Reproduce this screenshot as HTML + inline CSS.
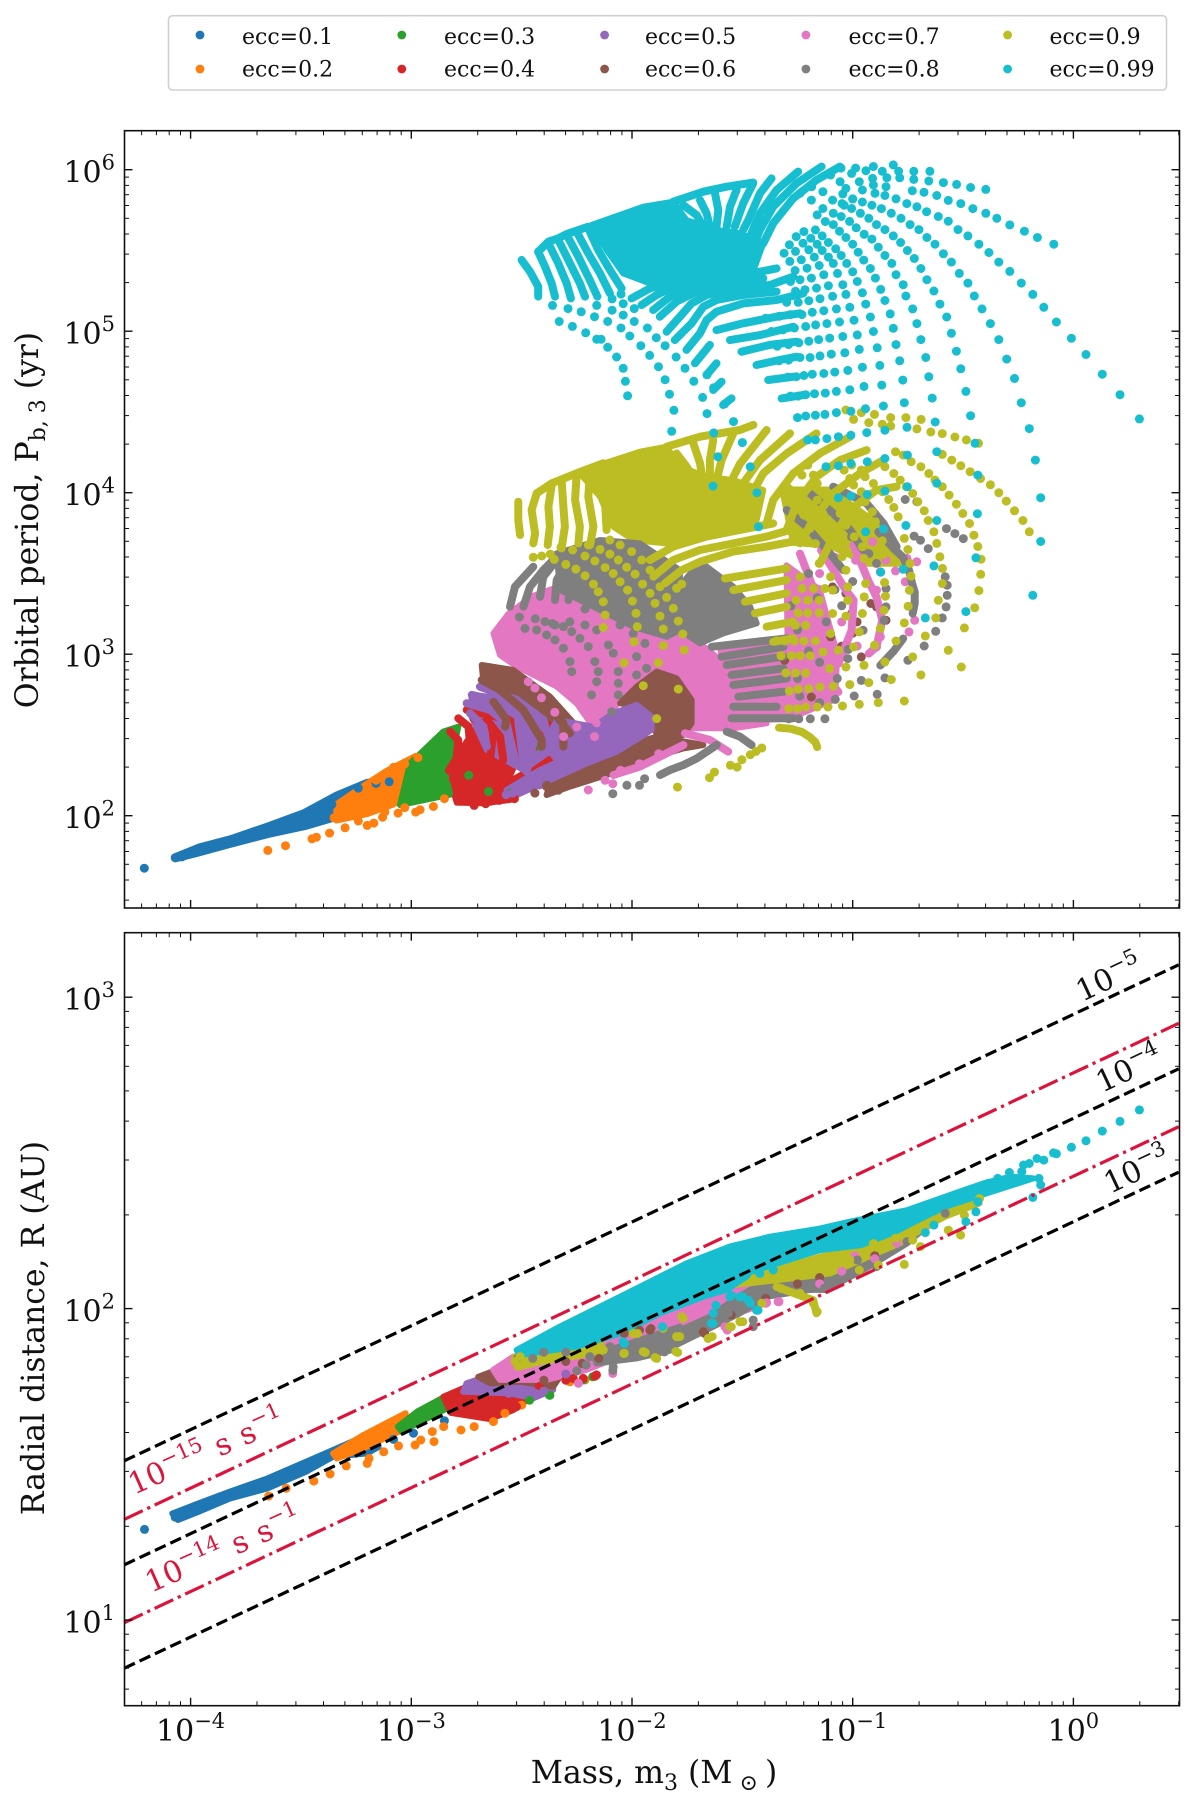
<!DOCTYPE html>
<html lang="en">
<head>
<meta charset="utf-8">
<title>Triple companion mass vs period and radial distance</title>
<style>
html,body{margin:0;padding:0;background:#fff}
svg{display:block}
text{font-family:"DejaVu Serif","Liberation Serif",serif;fill:#111}
</style>
</head>
<body>
<svg id="figure" xmlns="http://www.w3.org/2000/svg" width="1200" height="1801" viewBox="0 0 1200 1801">
  <rect x="0" y="0" width="1200" height="1801" fill="#fff"/>
  <g id="top-marks"></g>
  <g id="bottom-marks"></g>
  <g id="bottom-lines"></g>
  <g id="axes"></g>

  <g>
    <rect x="168.5" y="15.7" width="998" height="74.3" rx="4" fill="#fff" stroke="#d0d0d0" stroke-width="1.6"/>
    <g font-size="22">
      <g><circle cx="200" cy="35" r="4.4" fill="#1f77b4"/><text x="242" y="44">ecc=0.1</text></g>
      <g><circle cx="200" cy="69" r="4.4" fill="#ff7f0e"/><text x="242" y="76.7">ecc=0.2</text></g>
      <g><circle cx="401.8" cy="35" r="4.4" fill="#2ca02c"/><text x="444" y="44">ecc=0.3</text></g>
      <g><circle cx="401.8" cy="69" r="4.4" fill="#d62728"/><text x="444" y="76.7">ecc=0.4</text></g>
      <g><circle cx="604.6" cy="35" r="4.4" fill="#9467bd"/><text x="645" y="44">ecc=0.5</text></g>
      <g><circle cx="604.6" cy="69" r="4.4" fill="#8c564b"/><text x="645" y="76.7">ecc=0.6</text></g>
      <g><circle cx="805.9" cy="35" r="4.4" fill="#e377c2"/><text x="848.5" y="44">ecc=0.7</text></g>
      <g><circle cx="805.9" cy="69" r="4.4" fill="#7f7f7f"/><text x="848.5" y="76.7">ecc=0.8</text></g>
      <g><circle cx="1007.6" cy="35" r="4.4" fill="#bcbd22"/><text x="1049.5" y="44">ecc=0.9</text></g>
      <g><circle cx="1007.6" cy="69" r="4.4" fill="#17becf"/><text x="1049.5" y="76.7">ecc=0.99</text></g>
    </g>
  </g>

  <text transform="translate(38,520) rotate(-90)" text-anchor="middle" font-size="31.5">Orbital period, P<tspan dy="7" font-size="22">b, 3</tspan><tspan dy="-7"> (yr)</tspan></text>
  <text transform="translate(44,1328) rotate(-90)" text-anchor="middle" font-size="31.5">Radial distance, R (AU)</text>
  <text x="654" y="1783" text-anchor="middle" font-size="31.5">Mass, m<tspan dy="7" font-size="22">3</tspan><tspan dy="-7"> (M</tspan><tspan dy="7" font-size="22"> ⊙ </tspan><tspan dy="-7">)</tspan></text>

  <text transform="translate(1082,1002) rotate(-25)" font-size="30">10<tspan dy="-13" font-size="21">−5</tspan></text>
  <text transform="translate(1102,1093) rotate(-25)" font-size="30">10<tspan dy="-13" font-size="21">−4</tspan></text>
  <text transform="translate(1110,1194) rotate(-25)" font-size="30">10<tspan dy="-13" font-size="21">−3</tspan></text>
  <text transform="translate(134,1495) rotate(-24)" font-size="30" style="fill:#dc143c">10<tspan dy="-13" font-size="21">−15</tspan><tspan dy="13" word-spacing="2"> s s</tspan><tspan dy="-13" font-size="21">−1</tspan></text>
  <text transform="translate(151,1593) rotate(-24)" font-size="30" style="fill:#dc143c">10<tspan dy="-13" font-size="21">−14</tspan><tspan dy="13" word-spacing="2"> s s</tspan><tspan dy="-13" font-size="21">−1</tspan></text>
</svg>

<script>
// ---- Tick data (log10 decades) ----
const massDecades = [-4, -3, -2, -1, 0];
const massMinorDecades = [-5, -4, -3, -2, -1, 0];
const periodDecades = [2, 3, 4, 5, 6];
const periodMinorDecades = [1, 2, 3, 4, 5, 6];
const radiusDecades = [1, 2, 3];
const radiusMinorDecades = [0, 1, 2, 3];

// ---- Reference line data (log10 mass endpoints; log10 R endpoints) ----
const lineLogMass = [-4.301, 0.477];
const blackLine5 = [1.511, 3.104];
const blackLine4 = [1.177, 2.770];
const blackLine3 = [0.845, 2.438];
const redLine15 = [1.323, 2.916];
const redLine14 = [0.991, 2.584];

// ---- Series labels and colours ----
const eccLabels = ['0.1','0.2','0.3','0.4','0.5','0.6','0.7','0.8','0.9','0.99'];
const eccColors = ['#1f77b4','#ff7f0e','#2ca02c','#d62728','#9467bd','#8c564b','#e377c2','#7f7f7f','#bcbd22','#17becf'];

// ---- Top panel: dense regions, [log10 m3, log10 Pb3] ----
const topAreaE10 = [[[-4.07,1.75],[-3.96,1.81],[-3.82,1.86],[-3.65,1.94],[-3.49,2.02],[-3.34,2.13],[-3.2,2.21],[-3.1,2.23],[-3.1,2.18],[-3.2,2.1],[-3.33,1.99],[-3.48,1.93],[-3.65,1.88],[-3.82,1.82],[-3.98,1.76],[-4.07,1.73]]];
const topAreaE20 = [[[-3.34,2.07],[-3.2,2.2],[-3.11,2.28],[-2.98,2.37],[-2.98,2.16],[-3.08,2.07],[-3.2,2.01],[-3.34,1.97]]];
const topAreaE30 = [[[-3.051,2.066],[-3.006,2.324],[-2.855,2.521],[-2.787,2.551],[-2.824,2.304],[-2.794,2.139]]];
const topAreaE40 = [[[-2.802,2.118],[-2.568,2.201],[-2.387,2.345],[-2.16,2.49],[-2.13,2.459],[-2.251,2.376],[-2.417,2.273],[-2.56,2.149],[-2.553,2.097],[-2.673,2.077],[-2.794,2.081]],[[-2.824,2.304],[-2.704,2.551],[-2.538,2.593],[-2.507,2.386],[-2.568,2.201],[-2.794,2.118]]];
const topAreaE50 = [[[-2.175,2.551],[-2.085,2.634],[-1.979,2.686],[-1.911,2.613],[-1.911,2.531],[-1.994,2.459],[-2.069,2.397],[-2.205,2.324],[-2.371,2.221],[-2.538,2.118],[-2.568,2.159],[-2.417,2.283],[-2.251,2.386],[-2.13,2.49]],[[-2.726,2.748],[-2.522,2.717],[-2.402,2.593],[-2.341,2.428],[-2.492,2.283],[-2.658,2.407],[-2.734,2.634]],[[-2.341,2.593],[-2.175,2.551],[-2.145,2.49],[-2.341,2.345],[-2.387,2.428]]];
const topAreaE60 = [[[-2.054,2.696],[-1.979,2.799],[-1.888,2.892],[-1.798,2.851],[-1.73,2.717],[-1.73,2.572],[-1.767,2.5],[-1.888,2.5],[-1.911,2.613],[-1.964,2.675]],[[-2.371,2.201],[-2.205,2.314],[-1.994,2.448],[-1.888,2.49],[-1.677,2.438],[-1.767,2.417],[-1.964,2.335],[-2.115,2.252],[-2.281,2.18],[-2.387,2.128]],[[-2.681,2.933],[-2.538,2.902],[-2.371,2.737],[-2.236,2.531],[-2.311,2.417],[-2.402,2.593],[-2.522,2.717],[-2.673,2.82]]];
const topAreaE70 = [[[-2.628,3.129],[-2.56,3.25],[-2.45,3.36],[-2.33,3.42],[-2.145,3.3],[-1.9,3.3],[-1.767,3.15],[-1.601,2.964],[-1.571,2.593],[-1.39,2.572],[-1.541,2.541],[-1.737,2.541],[-1.73,2.717],[-1.798,2.861],[-1.888,2.892],[-2.009,2.8],[-2.085,2.655],[-2.16,2.52],[-2.251,2.696],[-2.341,2.8],[-2.522,2.923],[-2.598,2.995]],[[-1.6,3.05],[-1.3,3.1],[-1.26,2.6],[-1.57,2.59]],[[-1.3,3.55],[-1.15,3.4],[-1.07,3.0],[-1.08,2.72],[-1.29,2.6]]];
const topAreaE80 = [[[-1.692,3.573],[-1.541,3.418],[-1.465,3.294],[-1.435,3.191],[-1.586,3.129],[-1.692,3.067],[-1.783,3.15],[-1.798,3.397]],[[-2.341,3.624],[-2.145,3.707],[-1.964,3.686],[-1.783,3.521],[-1.783,3.15],[-1.843,3.108],[-1.994,3.17],[-2.145,3.273],[-2.326,3.397]]];
const topAreaE90 = [[[-2.243,4.13],[-1.964,4.254],[-1.843,4.285],[-1.783,4.161],[-1.662,4.099],[-1.541,4.078],[-1.405,4.016],[-1.435,3.831],[-1.617,3.748],[-1.843,3.686],[-1.994,3.707],[-2.085,3.79],[-2.145,3.975]],[[-1.32,4.02],[-1.1,4.02],[-.89,3.81],[-.77,3.56],[-.93,3.56],[-1.1,3.67],[-1.27,3.69]]];
const topAreaE99 = [[[-2.183,5.658],[-1.949,5.771],[-1.813,5.802],[-1.753,5.688],[-1.617,5.627],[-1.511,5.606],[-1.405,5.544],[-1.443,5.40],[-1.617,5.317],[-1.798,5.265],[-1.919,5.296],[-2.04,5.358],[-2.115,5.503]]];

// ---- Top panel: merged runs of points, [log10 m3, log10 Pb3] ----
const topTrackE10 = [];
const topTrackE20 = [];
const topTrackE30 = [];
const topTrackE40 = [[[-2.787,2.603],[-2.741,2.552],[-2.734,2.448],[-2.764,2.355]],[[-2.824,2.521],[-2.787,2.469],[-2.794,2.366]],[[-2.719,2.603],[-2.628,2.531],[-2.643,2.345]],[[-2.658,2.593],[-2.598,2.49],[-2.583,2.345]],[[-2.749,2.655],[-2.553,2.593],[-2.53,2.345]]];
const topTrackE50 = [[[-2.726,2.748],[-2.628,2.717],[-2.515,2.613],[-2.447,2.448],[-2.477,2.273]],[[-2.749,2.696],[-2.643,2.655],[-2.568,2.572],[-2.53,2.345]],[[-2.734,2.634],[-2.673,2.552],[-2.658,2.428]],[[-2.689,2.799],[-2.522,2.717],[-2.402,2.593],[-2.356,2.386]]];
const topTrackE60 = [[[-2.666,2.923],[-2.553,2.892],[-2.402,2.758],[-2.311,2.572],[-2.311,2.428]],[[-2.681,2.84],[-2.598,2.779],[-2.492,2.655],[-2.409,2.469],[-2.409,2.428]],[[-2.628,2.706],[-2.568,2.593],[-2.575,2.551]],[[-2.553,2.84],[-2.387,2.696],[-2.281,2.51]]];
const topTrackE70 = [[[-2.084,2.252],[-1.964,2.304],[-1.767,2.438]],[[-1.76,2.51],[-1.647,2.469],[-1.564,2.397]],[[-2.538,2.954],[-2.387,2.861],[-2.251,2.737],[-2.16,2.572]],[[-.996,3.675],[-.927,3.448],[-.892,3.355],[-.866,3.21],[-.892,3.045],[-.927,3.004]],[[-1.143,3.644],[-1.031,3.396],[-.996,3.334],[-1.005,3.148],[-1.065,2.942]],[[-1.239,3.623],[-1.143,3.283],[-1.135,3.128],[-1.169,2.942],[-1.065,2.766]]];
const topTrackE80 = [[[-1.639,3.046],[-1.299,3.098]],[[-1.594,2.984],[-1.314,3.046]],[[-1.571,2.933],[-1.314,2.985]],[[-1.549,2.871],[-1.314,2.912]],[[-1.541,2.809],[-1.299,2.85]],[[-1.518,2.737],[-1.314,2.768]],[[-1.541,2.675],[-1.345,2.675]],[[-1.549,2.603],[-1.269,2.603]],[[-1.571,2.521],[-1.511,2.49],[-1.458,2.438]],[[-1.616,2.438],[-1.707,2.355],[-1.767,2.314],[-1.828,2.283],[-1.873,2.252]],[[-2.553,3.294],[-2.53,3.418],[-2.447,3.542]],[[-2.492,3.294],[-2.462,3.418],[-2.402,3.521],[-2.341,3.604]],[[-2.417,3.356],[-2.402,3.48],[-2.341,3.583]],[[-2.349,3.335],[-2.341,3.459],[-2.281,3.604]],[[-2.288,3.335],[-2.273,3.459],[-2.22,3.624]],[[-1.194,3.996],[-1.088,3.872],[-1.012,3.769],[-.952,3.645]],[[-1.088,4.037],[-.937,3.934],[-.861,3.81],[-.801,3.666]],[[-1.299,3.893],[-1.209,3.79],[-1.103,3.624],[-1.043,3.521]],[[-.884,3.758],[-.849,3.706],[-.814,3.654],[-.771,3.599],[-.745,3.52],[-.731,3.438],[-.719,3.386],[-.719,3.314],[-.728,3.252]],[[-.771,3.097],[-.814,3.02],[-.875,2.93]]];
const topTrackE90 = [[[-1.843,4.285],[-1.692,4.347],[-1.511,4.388],[-1.45,4.42]],[[-1.541,4.367],[-1.594,4.202],[-1.617,4.078]],[[-1.632,4.326],[-1.647,4.202],[-1.647,4.078]],[[-1.722,4.305],[-1.692,4.182],[-1.677,4.058]],[[-1.798,4.243],[-1.752,4.161],[-1.707,4.047]],[[-1.39,4.388],[-1.51,4.18],[-1.54,4.1]],[[-1.284,4.367],[-1.42,4.202],[-1.496,4.058]],[[-1.164,4.367],[-1.299,4.243],[-1.405,4.12],[-1.465,3.975]],[[-2.515,3.944],[-2.515,3.831],[-2.507,3.738]],[[-2.432,3.996],[-2.455,3.893],[-2.439,3.748],[-2.447,3.686]],[[-2.364,4.047],[-2.379,3.913],[-2.372,3.79],[-2.382,3.676]],[[-2.319,4.078],[-2.311,3.913],[-2.304,3.79],[-2.319,3.655]],[[-2.251,4.109],[-2.258,3.955],[-2.236,3.79],[-2.243,3.686]],[[-2.19,4.13],[-2.198,3.975],[-2.175,3.79],[-2.19,3.676]],[[-2.432,3.996],[-2.364,4.058],[-2.251,4.12],[-2.13,4.182]],[[-2.13,4.161],[-2.122,3.934],[-2.115,3.769]],[[-1.919,3.583],[-1.813,3.666],[-1.662,3.728],[-1.511,3.769],[-1.36,3.81]],[[-1.903,3.48],[-1.813,3.583],[-1.692,3.645],[-1.541,3.686],[-1.39,3.728],[-1.284,3.769]],[[-1.851,3.439],[-1.775,3.521],[-1.692,3.573],[-1.541,3.635],[-1.39,3.666],[-1.269,3.697]],[[-1.579,3.469],[-1.299,3.531]],[[-1.541,3.397],[-1.299,3.459]],[[-1.488,3.325],[-1.299,3.377]],[[-1.443,3.253],[-1.299,3.294]],[[-1.39,3.17],[-1.269,3.201]],[[-1.36,3.077],[-1.269,3.098]],[[-1.012,4.347],[-1.148,4.244],[-1.269,4.12],[-1.36,3.955],[-1.39,3.81]],[[-.937,4.264],[-1.058,4.202],[-1.164,4.099],[-1.254,3.934],[-1.299,3.769]],[[-.861,4.202],[-.967,4.12],[-1.088,3.996],[-1.179,3.831],[-1.239,3.686]],[[-.801,4.037],[-.892,4.016],[-1.012,3.893],[-1.088,3.728],[-1.148,3.562]],[[-1.334,2.545],[-1.282,2.539],[-1.23,2.518],[-1.195,2.487],[-1.169,2.456],[-1.161,2.425]]];
const topTrackE99 = [[[-1.813,5.802],[-1.677,5.864],[-1.571,5.895],[-1.451,5.92]],[[-1.451,5.916],[-1.496,5.792],[-1.534,5.647]],[[-1.526,5.874],[-1.556,5.771],[-1.571,5.647]],[[-1.624,5.854],[-1.609,5.75],[-1.617,5.647]],[[-1.692,5.812],[-1.662,5.73],[-1.647,5.647]],[[-1.768,5.781],[-1.707,5.719],[-1.677,5.647]],[[-1.368,5.946],[-1.42,5.854],[-1.473,5.688],[-1.496,5.627]],[[-1.247,5.988],[-1.345,5.874],[-1.42,5.73],[-1.466,5.585]],[[-1.141,6.019],[-1.254,5.916],[-1.36,5.771],[-1.42,5.627],[-1.451,5.523]],[[-1.058,6.019],[-1.164,5.936],[-1.269,5.823],[-1.36,5.668],[-1.405,5.544]],[[-2.5,5.441],[-2.462,5.369],[-2.425,5.276],[-2.425,5.214]],[[-2.425,5.492],[-2.394,5.4],[-2.364,5.296],[-2.349,5.214]],[[-2.425,5.492],[-2.379,5.554],[-2.334,5.575],[-2.296,5.602],[-2.251,5.622],[-2.198,5.647]],[[-2.379,5.544],[-2.334,5.42],[-2.296,5.296],[-2.277,5.203]],[[-2.334,5.565],[-2.281,5.42],[-2.236,5.296],[-2.213,5.214]],[[-2.296,5.596],[-2.243,5.461],[-2.191,5.317],[-2.157,5.214]],[[-2.251,5.616],[-2.198,5.482],[-2.145,5.358],[-2.1,5.234]],[[-2.198,5.637],[-2.153,5.503],[-2.1,5.379],[-2.047,5.265]],[[-2.002,5.203],[-1.919,5.265],[-1.813,5.307],[-1.707,5.348],[-1.571,5.369]],[[-1.957,5.162],[-1.889,5.224],[-1.798,5.286],[-1.692,5.317],[-1.556,5.348],[-1.451,5.379]],[[-1.904,5.131],[-1.828,5.214],[-1.753,5.265],[-1.647,5.307],[-1.496,5.348],[-1.345,5.389]],[[-1.874,5.09],[-1.798,5.183],[-1.707,5.245],[-1.587,5.286],[-1.405,5.327]],[[-1.843,4.997],[-1.783,5.09],[-1.73,5.172],[-1.662,5.224],[-1.526,5.265],[-1.375,5.286],[-1.269,5.338]],[[-1.806,4.945],[-1.73,5.049],[-1.677,5.152],[-1.617,5.193],[-1.496,5.224],[-1.345,5.245]],[[-1.753,4.884],[-1.692,4.987],[-1.662,5.069],[-1.617,5.121],[-1.496,5.172],[-1.345,5.193],[-1.224,5.234]],[[-1.617,5.007],[-1.496,5.049],[-1.345,5.09],[-1.239,5.111]],[[-1.556,4.945],[-1.42,4.976],[-1.269,5.028]],[[-1.504,4.873],[-1.375,4.915],[-1.254,4.935]],[[-1.436,4.791],[-1.33,4.822],[-1.254,4.842]],[[-1.383,4.698],[-1.269,4.718]],[[-1.322,4.584],[-1.224,4.605]],[[-1.715,4.801],[-1.647,4.915]],[[-1.662,4.729],[-1.617,4.801]],[[-1.632,4.636],[-1.594,4.687]],[[-1.587,4.543],[-1.549,4.584]]];

// ---- Top panel: individual points, [log10 m3, log10 Pb3] ----
const topE10 = [[-4.21,1.675],[-4.07,1.74],[-4.04,1.745],[-4.01,1.76],[-3.96,1.79],[-3.9,1.82],[-3.82,1.85],[-3.75,1.88],[-3.65,1.91],[-3.57,1.95],[-3.49,1.99],[-3.42,2.03],[-3.36,2.07],[-3.24,2.17],[-3.16,2.2],[-3.1,2.21]];
const topE20 = [[-3.65,1.785],[-3.57,1.814],[-3.45,1.857],[-3.43,1.867],[-3.37,1.892],[-3.3,1.925],[-3.35,1.987],[-3.24,1.967],[-3.2,1.94],[-3.17,1.954],[-3.13,1.991],[-3.12,2.022],[-3.06,2.016],[-2.98,2.022],[-2.96,2.037],[-2.9,2.057],[-2.85,2.105],[-3.08,2.3],[-3.03,2.32],[-3.16,2.22],[-2.97,2.36],[-3.26,2.1],[-3.17,2.06],[-3.03,2.05]];
const topE30 = [[-2.74,2.25],[-2.65,2.15],[-2.42,2.43],[-2.55,2.14]];
const topE40 = [[-2.827,2.281],[-2.81,2.229],[-2.767,2.29],[-2.706,2.281],[-2.784,2.177],[-2.735,2.167],[-2.663,2.219],[-2.611,2.219],[-2.715,2.064],[-2.663,2.074],[-2.602,2.095],[-2.533,2.105],[-2.78,2.09],[-2.74,2.09],[-2.69,2.09],[-2.64,2.09],[-2.58,2.12],[-2.42,2.5],[-2.45,2.42],[-2.38,2.56]];
const topE50 = [[-2.54,2.14],[-2.5,2.16],[-2.42,2.19],[-2.351,2.549],[-2.342,2.405],[-2.368,2.301],[-2.57,2.13]];
const topE60 = [[-2.386,2.188],[-2.334,2.157],[-2.282,2.198],[-2.213,2.25],[-1.091,3.417],[-1.031,3.376],[-1.005,3.252],[-.918,3.314],[-.892,3.293],[-.849,3.21],[-1.1,3.107],[-.961,2.983],[-1.187,2.735],[-1.308,2.962],[-.87,3.27],[-.98,3.2],[-1.0,3.13],[-1.05,3.05],[-2.387,2.18],[-2.44,2.14]];
const topE70 = [[-.71,3.572],[-.754,3.593],[-.806,3.516],[-.762,3.448],[-.719,3.21],[-.745,3.138],[-.91,3.696],[-.849,3.582],[-.875,3.51],[-.875,3.107],[-.892,3.396],[-.987,3.582],[-.892,3.045],[-1.1,2.838],[-1.239,3.148],[-1.879,2.384],[-1.966,2.322],[-2.052,2.281],[-2.122,2.219],[-2.087,2.198],[-2.198,2.159],[-1.2,3.3],[-1.15,3.4],[-1.05,3.2],[-.98,3.05],[-1.1,2.95],[-1.19,2.9],[-1.15,3.5],[-1.08,3.6],[-2.47,2.83],[-2.44,2.79],[-2.41,2.73],[-2.35,2.64],[-2.31,2.49],[-2.17,2.49],[-2.25,2.55]];
const topE80 = [[-.499,3.716],[-.537,3.747],[-.575,3.778],[-.709,3.944],[-.762,3.958],[-.658,3.654],[-.693,3.706],[-.722,3.731],[-.572,3.365],[-.572,3.427],[-.581,3.479],[-.577,3.293],[-.594,3.225],[-.624,3.142],[-.676,3.051],[-.75,2.962],[-.854,2.853],[-.889,2.752],[-.858,3.21],[-.849,3.293],[-.849,3.407],[-.892,3.562],[-.927,3.623],[-.961,3.665],[-1.005,3.727],[-.953,3.148],[-1.022,2.973],[-.961,2.838],[-.993,2.741],[-1.079,2.72],[-1.126,2.6],[-1.192,2.6],[-1.244,2.6],[-1.29,2.6],[-1.943,2.229],[-1.966,2.188],[-2.023,2.188],[-2.087,2.136],[-1.2,3.02],[-1.15,2.95],[-1.12,3.2],[-1.05,3.3],[-1.0,3.45],[-1.08,3.4],[-1.16,3.35],[-1.2,3.5],[-1.28,3.3],[-1.25,3.15],[-1.25,2.85],[-1.24,2.74],[-1.15,2.7],[-1.07,2.85],[-1.02,3.03],
[-2.485,3.16],[-2.432,3.15],[-2.387,3.119],[-2.349,3.088],[-2.311,3.037],[-2.281,2.954],[-2.273,2.892],[-2.394,3.202],[-2.349,3.181],[-2.311,3.171],[-2.273,3.14],[-2.236,3.098],[-2.198,3.047],[-2.168,2.954],[-2.153,2.892],[-2.16,2.83],[-2.183,2.748],[-2.213,3.181],[-2.16,3.15],[-2.107,3.057],[-2.085,3.006],[-2.062,2.892],[-2.062,2.82],[-2.062,2.748],[-2.092,2.644],[-2.054,3.181],[-1.994,3.129],[-1.941,3.067],[-1.979,2.985],[-1.934,2.913],[-1.979,2.871],[-2.51,3.23],[-2.438,3.22],[-2.36,3.19],[-2.282,3.2],[-2.213,3.28]];
const topE90 = [[-.2,3.758],[-.229,3.828],[-.267,3.888],[-.304,3.948],[-.338,4.0],[-.376,4.049],[-.421,4.088],[-.468,4.13],[-.51,4.167],[-.551,4.202],[-.594,4.237],[-.43,4.306],[-.485,4.327],[-.537,4.345],[-.594,4.366],[-.646,4.376],[-.709,4.395],[-.69,4.454],[-.759,4.465],[-.828,4.465],[-.828,4.413],[-.901,4.485],[-.866,4.424],[-.961,4.496],[-1.031,4.512],[-.927,4.434],[-.996,4.454],[-.428,3.394],[-.42,3.495],[-.418,3.588],[-.433,3.667],[-.451,3.737],[-.471,3.809],[-.501,3.871],[-.53,3.929],[-.563,3.985],[-.594,4.037],[-.627,4.078],[-.655,4.119],[-.691,4.161],[-.735,4.192],[-.771,4.233],[-.806,4.254],[-.447,3.287],[-.494,3.163],[-.567,3.024],[-.508,2.921],[-.691,2.871],[-.766,2.71],[-.884,2.7],[-.97,2.69],[-1.046,2.679],[-1.112,2.673],[-1.161,2.673],[-1.213,2.673],[-1.25,2.663],[-1.29,2.663],[-.624,3.225],[-.612,3.334],[-.594,3.438],[-.593,3.531],[-.605,3.603],[-.619,3.686],[-.632,3.758],[-.658,3.828],[-.676,3.888],[-.705,3.944],[-.728,3.995],[-.757,4.037],[-.785,4.078],[-.814,4.119],[-.854,4.161],[-.671,3.113],[-.728,2.983],[-.804,3.082],[-.825,2.843],[-.854,2.952],[-.927,2.824],[-1.013,2.812],[-1.088,2.801],[-1.148,2.797],[-1.199,2.787],[-1.247,2.783],[-1.287,2.772],[-.766,3.194],[-.749,3.297],[-.743,3.396],[-.736,3.483],[-.741,3.562],[-.75,3.648],[-.766,3.717],[-.794,3.851],[-.814,3.909],[-.837,3.958],[-.866,4.006],[-.906,4.057],[-.944,4.099],[-.961,4.14],[-1.005,4.171],[-.901,3.055],[-.875,3.159],[-.858,3.272],[-.852,3.359],[-.856,3.444],[-.861,3.617],[-.866,3.702],[-.897,3.82],[-.911,3.882],[-.944,3.944],[-.961,4.006],[-.996,4.047],[-1.013,4.088],[-1.039,4.14],[-1.074,4.181],[-.949,2.931],[-.996,3.045],[-.97,3.138],[-.956,3.252],[-.948,3.355],[-.941,3.438],[-.949,3.593],[-.956,3.665],[-.993,3.727],[-1.031,3.799],[-1.057,3.871],[-1.1,3.954],[-1.135,3.995],[-1.161,4.057],[-1.178,4.109],[-1.204,4.171],[-1.031,2.921],[-1.065,3.024],[-1.031,3.235],[-1.022,3.334],[-1.022,3.417],[-1.031,3.52],[-1.048,3.603],[-1.083,3.706],[-1.109,3.789],[-1.135,3.871],[-1.161,3.954],[-1.195,4.037],[-1.23,4.109],[-1.104,2.911],[-1.135,3.014],[-1.1,3.128],[-1.091,3.252],[-1.091,3.396],[-1.1,3.479],[-1.152,3.562],[-1.169,3.685],[-1.195,3.778],[-1.221,3.861],[-1.256,3.954],[-1.29,4.026],
[-1.303,2.884],[-1.259,2.884],[-1.213,2.884],[-1.325,2.991],[-1.278,2.991],[-1.239,2.991],[-1.193,2.991],[-1.346,3.082],[-1.308,3.082],[-1.265,3.082],[-1.221,3.082],[-1.169,3.082],[-1.259,3.179],[-1.213,3.179],[-1.247,3.256],[-1.204,3.256],[-1.152,3.256],[-1.256,3.334],[-1.204,3.334],[-1.152,3.334],[-1.23,3.407],[-1.178,3.407],[-1.126,3.407],[-1.239,3.479],
[-2.409,3.608],[-2.352,3.587],[-2.3,3.556],[-2.254,3.527],[-2.213,3.486],[-2.175,3.434],[-2.153,3.387],[-2.13,3.325],[-2.122,3.242],[-2.13,3.166],[-2.322,3.661],[-2.269,3.645],[-2.213,3.608],[-2.168,3.577],[-2.122,3.536],[-2.085,3.5],[-2.054,3.449],[-2.02,3.397],[-1.998,3.329],[-1.982,3.253],[-1.976,3.17],[-1.991,3.077],[-2.036,2.947],[-2.198,3.676],[-2.145,3.649],[-2.1,3.62],[-2.062,3.583],[-2.024,3.538],[-1.986,3.496],[-1.952,3.434],[-1.918,3.377],[-1.896,3.315],[-1.873,3.236],[-1.858,3.156],[-1.858,3.053],[-1.881,2.947],[-1.949,2.805],[-2.1,3.707],[-2.054,3.676],[-2.002,3.635],[-1.956,3.583],[-1.918,3.521],[-1.873,3.418],[-1.843,3.352],[-1.813,3.284],[-1.79,3.205],[-1.77,3.125],[-1.764,3.026],[-1.79,2.784],[-1.775,3.434],[-1.798,3.408],[-1.888,2.601],
[-1.412,2.419],[-1.438,2.398],[-1.464,2.378],[-1.502,2.347],[-1.524,2.301],[-1.554,2.312],[-1.626,2.27],[-1.649,2.235],[-1.794,2.177],[-2.447,3.6],[-2.37,3.62]];
const topE99 = [[-2.11,5.06],[-2.05,5.02],[-2.01,4.97],[-1.96,4.91],[-1.92,4.85],[-1.88,4.78],[-1.85,4.7],[-1.83,4.61],[-1.81,4.51],[-1.82,4.38],[-2.14,4.95],[-2.11,4.9],[-2.07,4.84],[-2.04,4.77],[-2.03,4.69],[-2.02,4.6],[-2.09,5.13],[-2.04,5.1],[-1.99,5.06],[-1.93,5.02],[-1.89,4.96],[-1.85,4.91],[-1.8,4.84],[-1.76,4.77],[-1.72,4.69],[-1.68,4.59],[-1.66,4.49],[-1.66,4.73],[-1.63,4.65],[-1.58,4.55],[-1.54,4.44],[-1.63,4.37],[-1.5,4.31],[-2.36,5.16],[-2.33,5.06],[-2.29,5.14],[-2.27,5.03],[-2.23,5.12],[-2.21,4.99],[-2.16,5.16],[-2.17,5.09],[-2.16,4.95],[-2.09,5.2],[-2.04,5.17],[-1.99,5.14],[-2.05,5.23],
[.299,4.457],[.211,4.607],[.131,4.734],[.057,4.856],[-.009,4.956],[-.077,5.057],[-.134,5.148],[-.184,5.228],[-.236,5.298],[-.288,5.37],[-.338,5.428],[-.383,5.487],[-.428,5.539],[-.478,5.59],[-.523,5.629],[-.567,5.681],[-.612,5.71],[-.665,5.74],[-.709,5.77],[-.755,5.79],[-.089,5.539],[-.163,5.58],[-.222,5.619],[-.288,5.658],[-.347,5.699],[-.397,5.73],[-.456,5.759],[-.51,5.79],[-.567,5.81],[-.619,5.84],[-.677,5.86],[-.73,5.87],[-.397,5.878],[-.466,5.89],[-.529,5.909],[-.589,5.92],[-.655,5.93],[-.65,5.99],[-.723,5.99],[-.723,5.94],[-.816,6.03],[-.792,5.99],[-.787,5.95],[-.804,5.82],[-.854,5.84],[-.899,5.854],[-.906,6.02],[-.866,5.99],[-.845,5.95],[-.849,5.895],[-.987,6.01],[-.94,5.994],[-.91,5.946],[-.906,5.905],[-1.053,6.01],[-1.005,5.977],[-.97,5.926],[-.956,5.874],[-1.1,5.967],[-1.057,5.926],[-1.031,5.884],[-1.0,5.819],[-1.186,5.895],[-1.135,5.864],[-1.091,5.812],[-1.039,5.78],[-1.239,5.854],[-1.187,5.812],[-1.135,5.76],
[-.2,4.397],[-.236,4.557],[-.267,4.707],[-.302,4.827],[-.338,4.948],[-.376,5.047],[-.414,5.138],[-.449,5.218],[-.478,5.298],[-.517,5.358],[-.553,5.428],[-.589,5.479],[-.627,5.539],[-.664,5.58],[-.7,5.629],[-.74,5.66],[-.781,5.699],[-.825,5.73],[-.87,5.759],[-.913,5.78],[-.956,5.8],[-1.0,5.819],[-1.045,5.85],
[-.466,4.477],[-.487,4.627],[-.51,4.767],[-.53,4.876],[-.553,4.987],[-.574,5.088],[-.605,5.168],[-.632,5.249],[-.664,5.319],[-.691,5.388],[-.721,5.45],[-.752,5.5],[-.783,5.549],[-.816,5.59],[-.854,5.629],[-.892,5.66],[-.927,5.699],[-.965,5.73],[-1.005,5.76],[-1.048,5.79],
[-.626,4.438],[-.64,4.586],[-.655,4.718],[-.669,4.837],[-.691,4.948],[-.709,5.047],[-.728,5.138],[-.759,5.218],[-.771,5.288],[-.804,5.35],[-.823,5.42],[-.854,5.469],[-.884,5.52],[-.913,5.57],[-.948,5.6],[-.984,5.64],[-1.014,5.68],[-1.052,5.71],[-1.088,5.73],
[-.766,4.557],[-.773,4.697],[-.787,4.817],[-.804,4.917],[-.816,5.018],[-.83,5.107],[-.854,5.19],[-.873,5.259],[-.897,5.329],[-.92,5.388],[-.95,5.44],[-.975,5.489],[-1.0,5.539],[-1.031,5.58],[-1.06,5.619],[-1.088,5.66],[-1.124,5.679],[-1.161,5.72],
[-.861,4.537],[-.868,4.666],[-.877,4.788],[-.889,4.897],[-.906,4.998],[-.92,5.088],[-.941,5.168],[-.956,5.238],[-.979,5.308],[-1.0,5.368],[-1.027,5.42],[-1.052,5.469],[-1.077,5.51],[-1.11,5.549],[-1.138,5.59],[-1.169,5.627],
[-.949,4.658],[-.956,4.777],[-.97,4.887],[-.979,4.977],[-.994,5.068],[-1.013,5.148],[-1.031,5.228],[-1.045,5.288],[-1.069,5.358],[-1.088,5.42],[-1.11,5.459],[-1.138,5.5],[-1.161,5.539],[-1.19,5.576],[-1.221,5.617],
[-1.013,4.637],[-1.022,4.757],[-1.036,4.866],[-1.045,4.967],[-1.06,5.057],[-1.074,5.138],[-1.091,5.216],[-1.11,5.282],[-1.131,5.35],[-1.152,5.407],[-1.174,5.459],[-1.199,5.504],[-1.225,5.545],[-1.256,5.586],
[-1.074,4.627],[-1.081,4.747],[-1.097,4.858],[-1.104,4.957],[-1.117,5.047],[-1.131,5.127],[-1.148,5.201],[-1.164,5.267],[-1.187,5.329],[-1.207,5.39],[-1.233,5.442],[-1.259,5.494],[-1.287,5.535],
[-1.124,4.617],[-1.131,4.738],[-1.148,4.847],[-1.154,4.948],[-1.168,5.039],[-1.183,5.117],[-1.199,5.189],[-1.216,5.257],[-1.239,5.319],[-1.261,5.376],[-1.285,5.432],[-1.311,5.483],
[-1.173,4.613],[-1.183,4.734],[-1.193,4.837],[-1.199,4.938],[-1.213,5.029],[-1.23,5.103],[-1.247,5.179],[-1.259,5.247],[-1.282,5.308],
[-1.213,4.607],[-1.221,4.726],[-1.239,4.837],[-1.244,4.928],[-1.264,5.02],[-1.282,5.103],[-1.299,5.179],
[-1.247,4.598],[-1.256,4.718],[-1.291,4.821],[-1.291,4.917],[-1.317,5.008],[-1.334,5.092],
[-1.282,4.598],[-1.294,4.716],[-1.334,4.817],[-1.342,4.907],[-1.368,4.998],[-1.394,5.08],
[-1.204,4.327],[-1.169,4.327],[-1.117,4.335],[-1.065,4.347],[-1.008,4.356],[-.936,4.372],[-.854,4.387],[-.754,4.405],[-.446,4.306],[-1.25,4.465],[-1.213,4.475],[-1.169,4.48],[-1.126,4.485],[-1.074,4.496],[-1.008,4.504],[-.942,4.52],
[-1.611,4.223],[-1.464,4.161],[-1.633,4.041],[-1.434,4.0],[-1.427,3.789],[-1.121,4.161],[-1.065,4.167],[-1.008,4.181],[-.934,4.192],[-.854,4.212],[-.752,4.233],[-.619,4.254],[-.172,4.202],[-.148,3.969],[-.433,4.109],[-.619,4.059],[-.752,4.037],[-.854,4.01],[-.934,3.989],[-1.008,3.979],[-1.065,3.969],[-.435,3.87],[-.619,3.828],[-.759,3.797],[-.861,3.776],[-.941,3.758],[-.148,3.698],[-.442,3.597],[-.632,3.547],[-.771,3.526],[-.873,3.508],[-.184,3.365],[-.487,3.264],[-.671,3.225]];

// ---- Bottom panel: dense regions, [log10 m3, log10 R] ----
const botAreaE10 = [[[-4.083,1.342],[-3.962,1.375],[-3.823,1.412],[-3.65,1.455],[-3.477,1.508],[-3.355,1.546],[-3.252,1.578],[-3.2,1.594],[-3.148,1.556],[-3.2,1.535],[-3.355,1.524],[-3.477,1.476],[-3.65,1.423],[-3.823,1.39],[-3.962,1.348],[-4.057,1.321]]];
const botAreaE20 = [[[-3.355,1.535],[-3.217,1.594],[-3.026,1.664],[-3.026,1.615],[-3.217,1.551],[-3.338,1.519]]];
const botAreaE30 = [[[-3.061,1.621],[-2.974,1.669],[-2.836,1.722],[-2.836,1.68],[-2.957,1.637],[-3.044,1.605]]];
const botAreaE40 = [[[-2.855,1.717],[-2.75,1.749],[-2.508,1.739],[-2.463,1.712],[-2.538,1.674],[-2.645,1.645],[-2.82,1.665]]];
const botAreaE50 = [[[-2.75,1.76],[-2.704,1.771],[-2.508,1.771],[-2.357,1.739],[-2.448,1.712],[-2.553,1.728],[-2.765,1.733]]];
const botAreaE60 = [[[-2.697,1.781],[-2.614,1.803],[-2.433,1.797],[-2.327,1.781],[-2.357,1.749],[-2.508,1.765],[-2.644,1.76]]];
const botAreaE70 = [[[-2.629,1.803],[-2.538,1.846],[-2.206,1.878],[-2.055,1.92],[-1.647,2.027],[-1.451,2.081],[-1.436,2.006],[-1.647,1.953],[-1.813,1.91],[-2.055,1.846],[-2.206,1.803],[-2.387,1.771],[-2.599,1.771]]];
const botAreaE80 = [[[-1.783,1.931],[-1.647,1.974],[-1.542,2.027],[-1.466,2.06],[-1.315,2.102],[-1.164,2.135],[-1.194,2.06],[-1.39,2.038],[-1.511,1.985],[-1.693,1.92],[-1.813,1.878]],[[-2.176,1.856],[-2.055,1.878],[-1.783,1.942],[-1.813,1.867],[-1.98,1.84],[-2.161,1.824]],[[-1.325,2.113],[-1.1,2.135],[-.927,2.188],[-.771,2.22],[-.615,2.306],[-.529,2.327],[-.684,2.252],[-.754,2.209],[-.927,2.134],[-1.118,2.06],[-1.325,2.06]]];
const botAreaE90 = [[[-1.55,2.124],[-1.308,2.134],[-1.1,2.177],[-.927,2.215],[-.806,2.231],[-.684,2.295],[-.581,2.327],[-.433,2.359],[-.425,2.338],[-.581,2.295],[-.667,2.263],[-.788,2.209],[-.927,2.167],[-1.1,2.113],[-1.273,2.097],[-1.533,2.076]],[[-2.534,1.845],[-2.312,1.883],[-2.139,1.91],[-2.139,1.86],[-2.4,1.83],[-2.52,1.81]]];
const botAreaE99 = [[[-2.523,1.867],[-2.327,1.942],[-2.055,2.038],[-1.753,2.145],[-1.557,2.199],[-1.375,2.231],[-1.149,2.257],[-1.013,2.279],[-.754,2.316],[-.494,2.381],[-.408,2.402],[-.286,2.424],[-.182,2.418],[-.442,2.359],[-.581,2.327],[-.719,2.279],[-.806,2.247],[-.961,2.204],[-1.149,2.188],[-1.436,2.124],[-1.572,2.06],[-1.678,2.038],[-1.874,1.985],[-2.055,1.92],[-2.251,1.878],[-2.508,1.851]]];

// ---- Bottom panel: merged runs of points ----
const botTrackE90 = [[[-1.345,2.07],[-1.179,2.027],[-1.164,1.985]]];

// ---- Bottom panel: individual points, [log10 m3, log10 R] ----
const botE10 = [[-4.209,1.291],[-4.07,1.33],[-4.03,1.336],[-3.98,1.36],[-3.9,1.385],[-3.08,1.58],[-2.99,1.6],[-2.85,1.64]];
const botE20 = [[-3.646,1.398],[-3.567,1.423],[-3.442,1.446],[-3.368,1.469],[-3.295,1.495],[-3.2,1.503],[-3.191,1.519],[-3.125,1.54],[-3.058,1.559],[-2.983,1.562],[-2.957,1.578],[-2.897,1.573],[-2.905,1.605],[-2.853,1.621],[-2.775,1.61],[-2.715,1.621],[-2.628,1.637],[-2.576,1.664],[-2.5,1.69],[-2.282,1.765],[-2.213,1.771]];
const botE30 = [[-2.464,1.706],[-2.374,1.722],[-2.178,1.781],[-2.221,1.771],[-2.372,1.722]];
const botE40 = [[-2.524,1.685],[-2.221,1.776],[-2.161,1.787],[-2.42,1.75],[-2.3,1.77],[-2.168,1.783],[-2.266,1.776]];
const botE50 = [[-2.559,1.728],[-2.438,1.728],[-2.4,1.735],[-2.3,1.79],[-2.25,1.8]];
const botE60 = [[-1.966,1.931],[-1.914,1.936],[-1.671,1.92],[-1.55,1.979],[-1.394,2.033],[-2.035,1.92],[-2.226,1.824],[-2.399,1.77],[-2.3,1.83],[-2.15,1.84],[-1.678,1.926],[-1.919,1.931],[-1.25,2.08],[-1.15,2.1],[-.9,2.17]];
const botE70 = [[-1.394,2.017],[-1.568,1.931],[-2.087,1.792],[-2.243,1.76],[-1.334,2.022],[-.9,2.16],[-.99,2.17],[-.8,2.21],[-1.579,1.942],[-1.39,2.019],[-1.338,2.022],[-1.15,2.08],[-1.05,2.12]];
const botE80 = [[-1.129,2.065],[-1.195,2.065],[-1.853,1.861],[-2.087,1.845],[-2.087,1.802],[-.892,2.135],[-.979,2.156],[-.754,2.215],[-.581,2.306],[-2.208,1.819],[-2.3,1.86],[-2.45,1.84],[-2.25,1.8],[-1.98,1.89],[-2.1,1.878],[-2.191,1.846],[-2.085,1.813],[-1.98,1.846],[-1.859,1.878],[-1.708,1.942],[-1.451,1.963],[-1.451,1.942],[-1.564,1.985],[-2.4,1.86],[-2.52,1.84]];
const botE90 = [[-.511,2.236],[-.567,2.252],[-.494,2.3],[-.693,2.199],[-.766,2.142],[-.884,2.14],[-.97,2.124],[-1.013,2.156],[-.944,2.183],[-.906,2.209],[-.806,2.226],[-.728,2.22],[-1.1,2.145],[-1.152,2.151],[-1.204,2.145],[-1.256,2.108],[-1.308,2.124],[-1.412,2.017],[-1.161,1.99],[-1.178,2.017],[-1.239,2.049],[-1.325,2.065],[-1.498,1.958],[-1.55,1.942],[-1.637,1.91],[-1.775,1.974],[-1.784,1.91],[-1.888,1.84],[-1.793,1.859],[-1.975,1.92],[-2.035,1.856],[-1.94,1.859],[-1.446,2.097],[-.425,2.354],[-2.507,1.846],[-2.53,1.83],[-1.896,1.843],[-1.949,1.862],[-2.037,1.856],[-1.801,1.862],[-1.798,1.91],[-1.655,1.904],[-1.557,1.942],[-1.511,1.958],[-1.768,1.969],[-1.859,1.937],[-1.995,1.92],[-2.13,1.867],[-1.436,2.097]];
const botE99 = [[.299,2.638],[.211,2.601],[.131,2.57],[.057,2.539],[-.009,2.518],[-.077,2.497],[-.09,2.5],[-.134,2.477],[-.165,2.482],[-.2,2.466],[-.226,2.461],[-.234,2.44],[-.29,2.437],[-.343,2.418],[-.387,2.402],[-.148,2.397],[-.156,2.418],[-.184,2.357],[-.433,2.343],[-.442,2.311],[-.487,2.279],[-.671,2.244],[-.632,2.268],[-1.36,2.124],[-1.429,1.995],[-1.464,2.017],[-1.498,2.038],[-1.55,2.043],[-1.62,2.011],[-1.633,1.952],[-1.862,1.942],[-2.035,1.888],[-1.436,1.995],[-1.474,2.027],[-1.511,2.038],[-1.557,2.038],[-1.632,1.985],[-1.64,1.953],[-2.04,1.894],[-1.421,2.113]];

// ---- Series tables ----
const topAreas = [topAreaE10,topAreaE20,topAreaE30,topAreaE40,topAreaE50,topAreaE60,topAreaE70,topAreaE80,topAreaE90,topAreaE99];
const topTracks = [topTrackE10,topTrackE20,topTrackE30,topTrackE40,topTrackE50,topTrackE60,topTrackE70,topTrackE80,topTrackE90,topTrackE99];
const topPoints = [topE10,topE20,topE30,topE40,topE50,topE60,topE70,topE80,topE90,topE99];
const botAreas = [botAreaE10,botAreaE20,botAreaE30,botAreaE40,botAreaE50,botAreaE60,botAreaE70,botAreaE80,botAreaE90,botAreaE99];
const botPoints = [botE10,botE20,botE30,botE40,botE50,botE60,botE70,botE80,botE90,botE99];

// ---- Axis functions ----
const SVGNS = 'http://www.w3.org/2000/svg';
const plotLeft = 124.5, plotRight = 1179.5;
const topPlotTop = 130.7, topPlotBottom = 908, botPlotTop = 932.7, botPlotBottom = 1705.7;
function xScale(logM){ return 190.6 + (logM + 4) * 220.7; }
function yTop(logP){ return 815.7 - (logP - 2) * 161.5; }
function yBot(logR){ return 1620 - (logR - 1) * 311.4; }

function drawArea(parent, outline, color, yFn){
  const poly = document.createElementNS(SVGNS, 'polygon');
  
  
  poly.setAttribute('points', outline.map(p => xScale(p[0]).toFixed(1) + ',' + yFn(p[1]).toFixed(1)).join(' '));
  poly.setAttribute('fill', color);
  poly.setAttribute('stroke', color);
  poly.setAttribute('stroke-width', '6');
  poly.setAttribute('stroke-linejoin', 'round');
  parent.appendChild(poly);
}
function drawTrack(parent, run, color, yFn){
  const path = document.createElementNS(SVGNS, 'polyline');
  
  
  path.setAttribute('points', run.map(p => xScale(p[0]).toFixed(1) + ',' + yFn(p[1]).toFixed(1)).join(' '));
  path.setAttribute('fill', 'none');
  path.setAttribute('stroke', color);
  path.setAttribute('stroke-width', '8');
  path.setAttribute('stroke-linecap', 'round');
  path.setAttribute('stroke-linejoin', 'round');
  parent.appendChild(path);
}
function drawPoint(parent, pt, color, yFn){
  const dot = document.createElementNS(SVGNS, 'circle');
  
  
  dot.setAttribute('cx', xScale(pt[0]).toFixed(1));
  dot.setAttribute('cy', yFn(pt[1]).toFixed(1));
  dot.setAttribute('r', '4.5');
  dot.setAttribute('fill', color);
  parent.appendChild(dot);
}

const topLayer = document.getElementById('top-marks');
const botLayer = document.getElementById('bottom-marks');
const topAreaOrder = [0, 1, 2, 3, 9, 8, 6, 7, 5, 4];
topAreaOrder.forEach(s => topAreas[s].forEach(a => drawArea(topLayer, a, eccColors[s], yTop)));
for (let s = 0; s < 10; s++) {
  topTracks[s].forEach(t => drawTrack(topLayer, t, eccColors[s], yTop));
  topPoints[s].forEach(p => drawPoint(topLayer, p, eccColors[s], yTop));
}
for (let s = 0; s < 10; s++) botAreas[s].forEach(a => drawArea(botLayer, a, eccColors[s], yBot));
for (let s = 0; s < 10; s++) {
  if (s === 8) botTrackE90.forEach(t => drawTrack(botLayer, t, eccColors[s], yBot));
  botPoints[s].forEach(p => drawPoint(botLayer, p, eccColors[s], yBot));
}

// ---- Reference lines ----
const lineLayer = document.getElementById('bottom-lines');
function drawRefLine(values, color, dash, name){
  const ln = document.createElementNS(SVGNS, 'line');
  
  
  ln.setAttribute('x1', xScale(lineLogMass[0]));
  ln.setAttribute('y1', yBot(values[0]));
  ln.setAttribute('x2', xScale(lineLogMass[1]));
  ln.setAttribute('y2', yBot(values[1]));
  ln.setAttribute('stroke', color);
  ln.setAttribute('stroke-width', '3.2');
  ln.setAttribute('stroke-dasharray', dash);
  lineLayer.appendChild(ln);
}
drawRefLine(redLine15, '#dc143c', '20.5 5 3.2 5', 'pdot-line-1e-15');
drawRefLine(redLine14, '#dc143c', '20.5 5 3.2 5', 'pdot-line-1e-14');
drawRefLine(blackLine5, '#000', '11.8 5.2', 'accel-line-1e-5');
drawRefLine(blackLine4, '#000', '11.8 5.2', 'accel-line-1e-4');
drawRefLine(blackLine3, '#000', '11.8 5.2', 'accel-line-1e-3');

// ---- Axes ----
const axesLayer = document.getElementById('axes');
function seg(x1, y1, x2, y2, w, name){
  const ln = document.createElementNS(SVGNS, 'line');
  
  
  ln.setAttribute('x1', x1.toFixed(1));
  ln.setAttribute('y1', y1.toFixed(1));
  ln.setAttribute('x2', x2.toFixed(1));
  ln.setAttribute('y2', y2.toFixed(1));
  ln.setAttribute('stroke', '#111');
  ln.setAttribute('stroke-width', w);
  axesLayer.appendChild(ln);
}
function powerLabel(x, y, anchor, exponent, name){
  const t = document.createElementNS(SVGNS, 'text');
  
  
  t.setAttribute('x', x);
  t.setAttribute('y', y);
  t.setAttribute('text-anchor', anchor);
  t.setAttribute('font-size', '30');
  t.textContent = '10';
  const sup = document.createElementNS(SVGNS, 'tspan');
  sup.setAttribute('dy', '-13');
  sup.setAttribute('font-size', '21');
  sup.textContent = String(exponent).replace('-', '\u2212');
  t.appendChild(sup);
  axesLayer.appendChild(t);
}
function drawPanel(top, bottom, yFn, yMajor, yMinorDecades, panel){
  massMinorDecades.forEach(d => {
    for (let k = 2; k <= 9; k++) {
      const x = xScale(d + Math.log10(k));
      if (x > plotLeft && x < plotRight) {
        seg(x, top, x, top + 4.5, 1, panel + '-x-minor-tick');
        seg(x, bottom, x, bottom - 4.5, 1, panel + '-x-minor-tick');
      }
    }
  });
  massDecades.forEach(d => {
    const x = xScale(d);
    seg(x, top, x, top + 8, 1.4, panel + '-x-major-tick');
    seg(x, bottom, x, bottom - 8, 1.4, panel + '-x-major-tick');
  });
  yMinorDecades.forEach(d => {
    for (let k = 2; k <= 9; k++) {
      const y = yFn(d + Math.log10(k));
      if (y > top && y < bottom) {
        seg(plotLeft, y, plotLeft + 4.5, y, 1, panel + '-y-minor-tick');
        seg(plotRight, y, plotRight - 4.5, y, 1, panel + '-y-minor-tick');
      }
    }
  });
  yMajor.forEach(d => {
    const y = yFn(d);
    seg(plotLeft, y, plotLeft + 8, y, 1.4, panel + '-y-major-tick');
    seg(plotRight, y, plotRight - 8, y, 1.4, panel + '-y-major-tick');
    powerLabel(115, y + 13, 'end', d, panel + '-y-tick-label');
  });
  const frame = document.createElementNS(SVGNS, 'rect');
  
  
  frame.setAttribute('x', plotLeft);
  frame.setAttribute('y', top);
  frame.setAttribute('width', plotRight - plotLeft);
  frame.setAttribute('height', bottom - top);
  frame.setAttribute('fill', 'none');
  frame.setAttribute('stroke', '#111');
  frame.setAttribute('stroke-width', '1.6');
  axesLayer.appendChild(frame);
}
drawPanel(topPlotTop, topPlotBottom, yTop, periodDecades, periodMinorDecades, 'period-panel');
drawPanel(botPlotTop, botPlotBottom, yBot, radiusDecades, radiusMinorDecades, 'radius-panel');
massDecades.forEach(d => powerLabel(xScale(d), 1741, 'middle', d, 'mass-tick-label'));
</script>
</body>
</html>
